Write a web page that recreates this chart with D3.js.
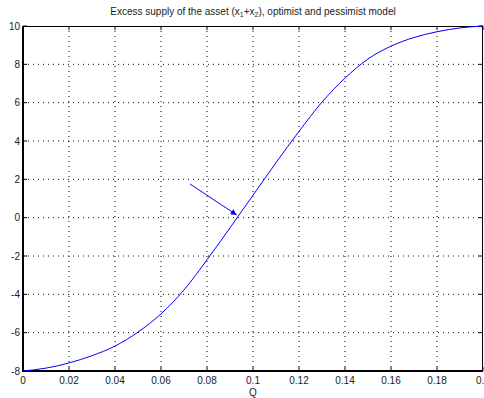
<!DOCTYPE html>
<html>
<head>
<meta charset="utf-8">
<script src="https://cdn.jsdelivr.net/npm/d3@7"></script>
<style>
body { margin: 0; background: #fff; }
svg { display: block; font-family: "Liberation Sans", Arial, sans-serif; }
</style>
</head>
<body>
<svg id="chart" width="484" height="398"></svg>
<script>
// values
const q_values = [0, 0.01, 0.02, 0.03, 0.04, 0.05, 0.06, 0.07, 0.08, 0.09, 0.10,
    0.11, 0.12, 0.13, 0.14, 0.15, 0.16, 0.17, 0.18, 0.19, 0.20]
const supply_values = [-8, -7.85, -7.58, -7.2, -6.7, -5.97, -5.02, -3.77, -2.2, -0.53, 1.17,
    2.87, 4.5, 6.03, 7.28, 8.28, 8.95, 9.4, 9.7, 9.9, 10]
const x_ticks = [0, 0.02, 0.04, 0.06, 0.08, 0.1, 0.12, 0.14, 0.16, 0.18, 0.2]
const y_ticks = [-8, -6, -4, -2, 0, 2, 4, 6, 8, 10]
const arrow_from = [0.0726, 1.76]
const arrow_to = [0.0929, 0.14]

const svg = d3.select("#chart")
const pLeft = 23, pRight = 483, pTop = 26, pBottom = 371

const x = d3.scaleLinear().domain([0, 0.2]).range([pLeft, pRight])
const y = d3.scaleLinear().domain([-8, 10]).range([pBottom, pTop])

// grid
svg.append("g")
    .selectAll("line")
    .data(x_ticks.slice(1, -1))
    .enter().append("line")
    .attr("x1", d => x(d)).attr("x2", d => x(d))
    .attr("y1", pTop).attr("y2", pBottom)
    .attr("stroke", "#000").attr("stroke-width", 1)
    .attr("stroke-dasharray", "1,4")

svg.append("g")
    .selectAll("line")
    .data(y_ticks.slice(1, -1))
    .enter().append("line")
    .attr("x1", pLeft).attr("x2", pRight)
    .attr("y1", d => y(d)).attr("y2", d => y(d))
    .attr("stroke", "#000").attr("stroke-width", 1)
    .attr("stroke-dasharray", "1,4")

// inward ticks on all four sides
const tickLen = 4
const ticks = svg.append("g").attr("stroke", "#000").attr("stroke-width", 1)
x_ticks.forEach(d => {
    ticks.append("line").attr("x1", x(d)).attr("x2", x(d)).attr("y1", pBottom).attr("y2", pBottom - tickLen)
    ticks.append("line").attr("x1", x(d)).attr("x2", x(d)).attr("y1", pTop).attr("y2", pTop + tickLen)
})
y_ticks.forEach(d => {
    ticks.append("line").attr("x1", pLeft).attr("x2", pLeft + tickLen).attr("y1", y(d)).attr("y2", y(d))
    ticks.append("line").attr("x1", pRight).attr("x2", pRight - tickLen).attr("y1", y(d)).attr("y2", y(d))
})

// box
svg.append("line").attr("x1", pLeft).attr("x2", pRight).attr("y1", pTop + 0.5).attr("y2", pTop + 0.5)
    .attr("stroke", "#000").attr("stroke-width", 1)
svg.append("line").attr("x1", pRight - 0.5).attr("x2", pRight - 0.5).attr("y1", pTop).attr("y2", pBottom)
    .attr("stroke", "#000").attr("stroke-width", 1)
svg.append("line").attr("x1", pLeft).attr("x2", pLeft).attr("y1", pTop).attr("y2", pBottom + 1)
    .attr("stroke", "#000").attr("stroke-width", 2)
svg.append("line").attr("x1", pLeft - 1).attr("x2", pRight).attr("y1", pBottom).attr("y2", pBottom)
    .attr("stroke", "#000").attr("stroke-width", 2)

// tick labels
svg.append("g")
    .selectAll("text")
    .data(x_ticks)
    .enter().append("text")
    .attr("x", d => x(d))
    .attr("y", pBottom + 13)
    .attr("text-anchor", "middle")
    .attr("font-size", 10)
    .attr("fill", "#222")
    .text(d => d)

svg.append("g")
    .selectAll("text")
    .data(y_ticks)
    .enter().append("text")
    .attr("x", pLeft - 3)
    .attr("y", d => y(d) + 3.5)
    .attr("text-anchor", "end")
    .attr("font-size", 10)
    .attr("fill", "#222")
    .text(d => d)

// axis label
svg.append("text")
    .attr("x", (pLeft + pRight) / 2)
    .attr("y", 396)
    .attr("text-anchor", "middle")
    .attr("font-size", 10)
    .attr("fill", "#222")
    .text("Q")

// title with subscripts
const title = svg.append("text")
    .attr("x", (pLeft + pRight) / 2)
    .attr("y", 15)
    .attr("text-anchor", "middle")
    .attr("font-size", 10)
    .attr("fill", "#222")
title.append("tspan").text("Excess supply of the asset (x")
title.append("tspan").attr("font-size", 7).attr("dy", 2).text("1")
title.append("tspan").attr("dy", -2).text("+x")
title.append("tspan").attr("font-size", 7).attr("dy", 2).text("2")
title.append("tspan").attr("dy", -2).text("), optimist and pessimist model")

// curve
const line = d3.line()
    .x((d, i) => x(q_values[i]))
    .y(d => y(d))
    .curve(d3.curveMonotoneX)

svg.append("path")
    .datum(supply_values)
    .attr("d", line)
    .attr("fill", "none")
    .attr("stroke", "#0000ff")
    .attr("stroke-width", 1)

// arrow
const defs = svg.append("defs")
defs.append("marker")
    .attr("id", "arrowhead")
    .attr("viewBox", "0 0 10 10")
    .attr("refX", 10).attr("refY", 5)
    .attr("markerWidth", 8).attr("markerHeight", 6)
    .attr("markerUnits", "userSpaceOnUse")
    .attr("orient", "auto")
    .append("path")
    .attr("d", "M0,0L10,5L0,10Z")
    .attr("fill", "#0000ff")

svg.append("line")
    .attr("x1", x(arrow_from[0])).attr("y1", y(arrow_from[1]))
    .attr("x2", x(arrow_to[0])).attr("y2", y(arrow_to[1]))
    .attr("stroke", "#0000ff")
    .attr("stroke-width", 1)
    .attr("marker-end", "url(#arrowhead)")
</script>
</body>
</html>
